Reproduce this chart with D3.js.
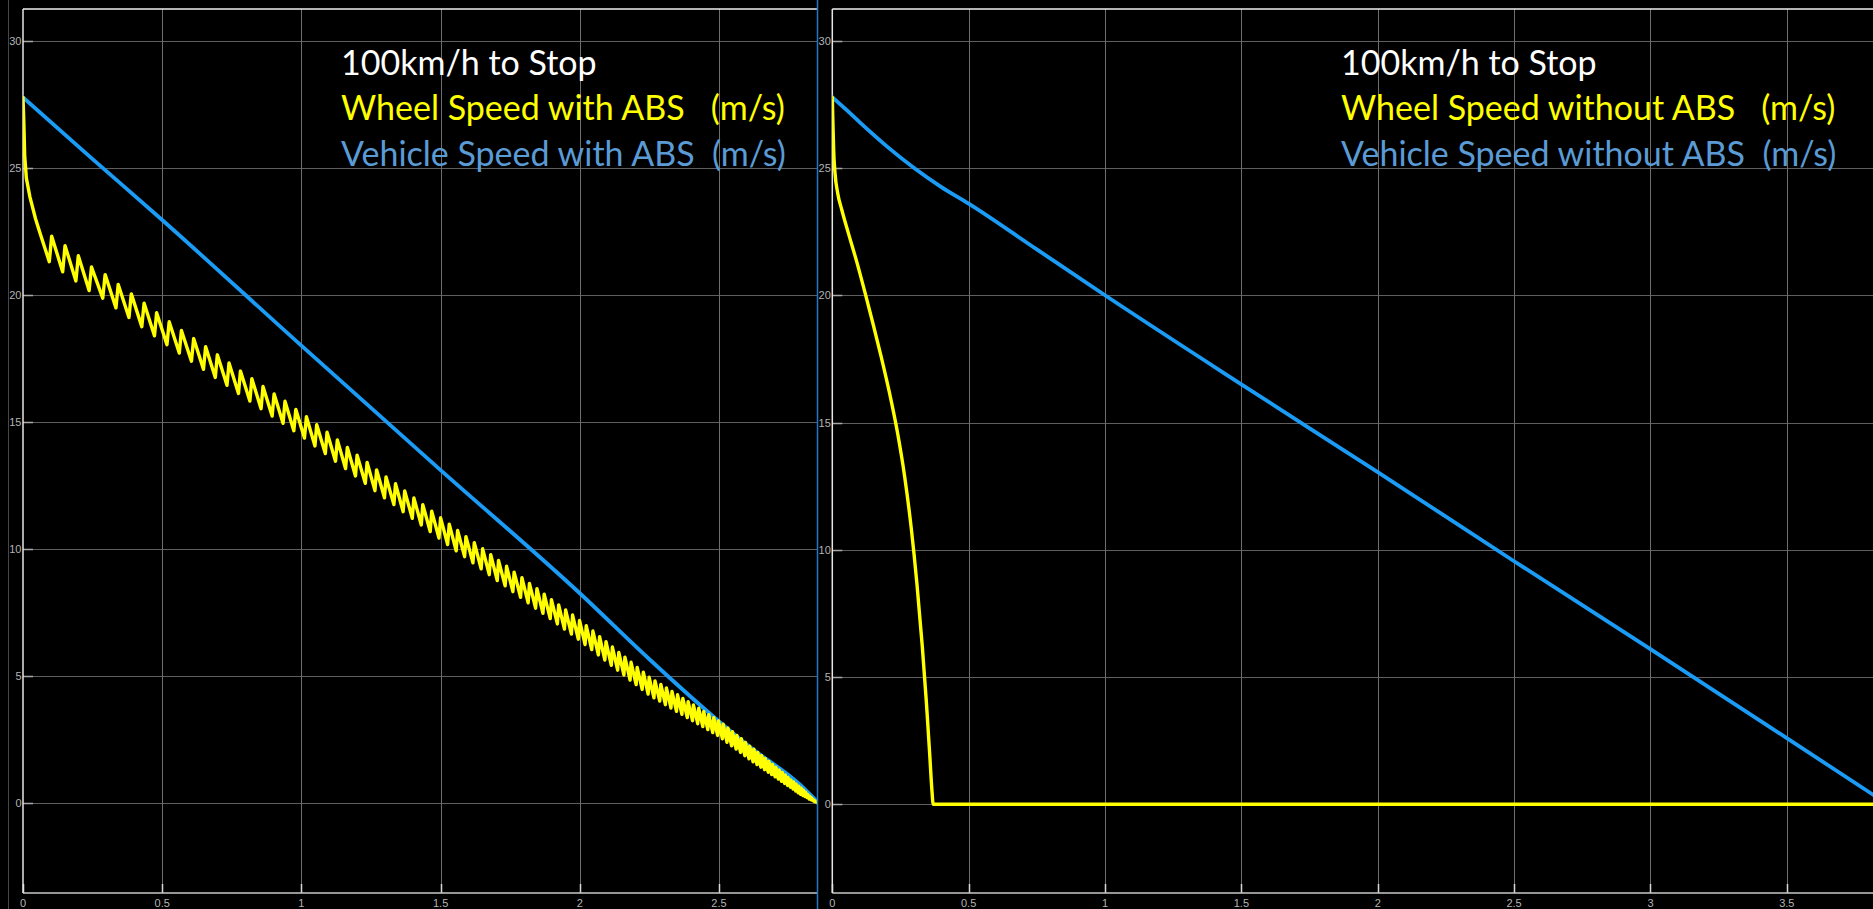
<!DOCTYPE html>
<html>
<head>
<meta charset="utf-8">
<script src="https://cdn.jsdelivr.net/npm/d3@7"></script>
<style>
  html, body { margin: 0; padding: 0; background: #000; overflow: hidden; }
  svg { display: block; }
  .legend { font-family: Lato, "Open Sans", sans-serif; white-space: pre; }
  .tick-label { font-family: "Liberation Sans", Arial, sans-serif; font-size: 11px; fill: #b4b4b4; }
</style>
</head>
<body>
<svg id="chart" width="1873" height="909"></svg>
<script>
// ---- Shared axis ticks ----
const yTicks = [0, 5, 10, 15, 20, 25, 30];
const xTicksAbs = [0, 0.5, 1, 1.5, 2, 2.5];
const xTicksNoAbs = [0, 0.5, 1, 1.5, 2, 2.5, 3, 3.5];

// ---- With ABS: vehicle speed (m/s) ----
const absVehicleT = [0, 0.25, 0.5, 1.0, 1.5, 2.0, 2.25, 2.5, 2.61, 2.79, 2.852];
const absVehicleV = [27.78, 25.35, 22.95, 18.0, 13.1, 8.25, 5.65, 3.2, 2.2, 0.72, 0.05];

// ---- With ABS: wheel speed (m/s), trough/peak pairs of the ABS cycling ----
const absWheelT = [
  0, 0.003, 0.006, 0.012, 0.025, 0.045, 0.061, 0.08,
  0.0945, 0.103, 0.1425, 0.151, 0.190, 0.1986, 0.2375, 0.246, 0.2865, 0.295,
  0.3339, 0.342, 0.3806, 0.389, 0.4267, 0.435, 0.4722, 0.480, 0.5171, 0.525,
  0.5614, 0.569, 0.6051, 0.613, 0.6482, 0.656, 0.6907, 0.698, 0.7327, 0.740,
  0.7741, 0.781, 0.8149, 0.822, 0.8552, 0.862, 0.8949, 0.902, 0.9341, 0.941,
  0.9728, 0.980, 1.0110, 1.018, 1.0487, 1.055, 1.0859, 1.092, 1.1225, 1.129,
  1.1586, 1.165, 1.1943, 1.200, 1.2295, 1.236, 1.2642, 1.270, 1.2984, 1.304,
  1.3322, 1.338, 1.3655, 1.371, 1.3983, 1.404, 1.4307, 1.436, 1.4627, 1.468,
  1.4942, 1.500, 1.5253, 1.531, 1.5560, 1.561, 1.5863, 1.591, 1.6162, 1.621,
  1.6457, 1.651, 1.6748, 1.680, 1.7035, 1.708, 1.7318, 1.737, 1.7597, 1.764,
  1.7873, 1.792, 1.8145, 1.819, 1.8413, 1.846, 1.8677, 1.872, 1.8938, 1.898,
  1.9195, 1.924, 1.9449, 1.949, 1.9699, 1.974, 1.9946, 1.999, 2.0190, 2.023,
  2.0430, 2.047, 2.0667, 2.071, 2.0901, 2.094, 2.1132, 2.117, 2.1360, 2.140,
  2.1584, 2.162, 2.1806, 2.184, 2.2025, 2.206, 2.2241, 2.228, 2.2454, 2.249,
  2.2664, 2.270, 2.2871, 2.291, 2.3075, 2.311, 2.3276, 2.331, 2.3474, 2.351,
  2.3669, 2.370, 2.3861, 2.389, 2.4050, 2.408, 2.4236, 2.427, 2.4419, 2.445,
  2.4599, 2.463, 2.4776, 2.481, 2.4950, 2.498, 2.5121, 2.515, 2.5289, 2.532,
  2.5454, 2.548, 2.5616, 2.564, 2.5774, 2.580, 2.5928, 2.595, 2.6078, 2.610,
  2.6224, 2.625, 2.6366, 2.639, 2.6504, 2.653, 2.6638, 2.666, 2.6768, 2.679,
  2.6894, 2.692, 2.7016, 2.704, 2.7134, 2.716, 2.7248, 2.727, 2.7358, 2.738,
  2.7464, 2.748, 2.7566, 2.758, 2.7664, 2.768, 2.7758, 2.777, 2.7848, 2.786,
  2.7934, 2.795, 2.8016, 2.803, 2.8094, 2.811, 2.8168, 2.818, 2.8238, 2.825,
  2.8304, 2.831, 2.8366, 2.837, 2.8424, 2.843, 2.852
];
const absWheelV = [
  27.78, 26.8, 25.5, 24.6, 23.85, 23.0, 22.44, 21.8,
  21.31, 22.31, 20.91, 21.94, 20.55, 21.54, 20.17, 21.10, 19.87, 20.80,
  19.49, 20.41, 19.11, 20.04, 18.75, 19.67, 18.39, 19.30, 18.04, 18.94,
  17.71, 18.60, 17.39, 18.28, 17.07, 17.96, 16.75, 17.64, 16.44, 17.32,
  16.12, 17.00, 15.82, 16.70, 15.52, 16.39, 15.23, 16.10, 14.94, 15.81,
  14.65, 15.49, 14.36, 15.20, 14.05, 14.89, 13.75, 14.59, 13.45, 14.29,
  13.16, 13.99, 12.87, 13.69, 12.58, 13.40, 12.29, 13.11, 12.01, 12.83,
  11.74, 12.56, 11.46, 12.28, 11.20, 12.00, 10.94, 11.74, 10.68, 11.48,
  10.42, 11.22, 10.17, 10.97, 9.92, 10.72, 9.69, 10.48, 9.45, 10.24,
  9.21, 10.00, 8.98, 9.77, 8.75, 9.54, 8.54, 9.31, 8.31, 9.08,
  8.09, 8.86, 7.87, 8.64, 7.66, 8.43, 7.46, 8.21, 7.25, 8.00,
  7.04, 7.79, 6.84, 7.59, 6.64, 7.39, 6.44, 7.18, 6.23, 6.97,
  6.03, 6.76, 5.82, 6.54, 5.62, 6.34, 5.41, 6.13, 5.22, 5.92,
  5.03, 5.73, 4.83, 5.53, 4.65, 5.33, 4.46, 5.14, 4.28, 4.94,
  4.13, 4.80, 4.00, 4.66, 3.86, 4.52, 3.73, 4.38, 3.60, 4.25,
  3.48, 4.11, 3.35, 3.98, 3.23, 3.85, 3.11, 3.72, 3.00, 3.59,
  2.88, 3.47, 2.76, 3.35, 2.65, 3.22, 2.52, 3.09, 2.38, 2.94,
  2.24, 2.80, 2.11, 2.65, 1.98, 2.52, 1.85, 2.37, 1.73, 2.23,
  1.61, 2.11, 1.50, 1.98, 1.40, 1.86, 1.30, 1.74, 1.20, 1.62,
  1.11, 1.51, 1.02, 1.40, 0.93, 1.29, 0.84, 1.19, 0.76, 1.09,
  0.68, 0.99, 0.61, 0.90, 0.54, 0.82, 0.46, 0.73, 0.39, 0.65,
  0.33, 0.57, 0.28, 0.49, 0.24, 0.41, 0.20, 0.33, 0.15, 0.26,
  0.12, 0.20, 0.09, 0.14, 0.05, 0.08, 0.00
];

// ---- Without ABS: vehicle speed (m/s) ----
const noAbsVehicleT = [0, 0.05, 0.1, 0.2, 0.3, 0.4, 0.5, 0.75, 1.0, 1.5, 2.0, 2.5, 3.0, 3.5, 3.82];
const noAbsVehicleV = [27.78, 27.3, 26.8, 25.85, 25.0, 24.25, 23.6, 21.8, 20.0, 16.5, 13.05, 9.55, 6.1, 2.6, 0.35];

// ---- Without ABS: wheel speed (m/s), wheel locks near 0.37 s ----
const noAbsWheelT = [0, 0.002, 0.005, 0.01, 0.02, 0.035, 0.06, 0.09, 0.12, 0.15, 0.18, 0.21, 0.24, 0.265, 0.29, 0.31, 0.33, 0.345, 0.357, 0.365, 0.37, 3.82];
const noAbsWheelV = [27.78, 26.9, 25.7, 24.8, 24.0, 23.35, 22.4, 21.3, 20.1, 18.85, 17.55, 16.15, 14.55, 12.9, 10.8, 8.7, 6.2, 4.0, 2.0, 0.6, 0.0, 0.0];

// ---- Legend text ----
const legendAbs = [
  { text: "100km/h to Stop", color: "#ffffff" },
  { text: "Wheel Speed with ABS   (m/s)", color: "#ffff00" },
  { text: "Vehicle Speed with ABS  (m/s)", color: "#5b9bd5" }
];
const legendNoAbs = [
  { text: "100km/h to Stop", color: "#ffffff" },
  { text: "Wheel Speed without ABS   (m/s)", color: "#ffff00" },
  { text: "Vehicle Speed without ABS  (m/s)", color: "#5b9bd5" }
];

const zip = (ts, vs) => ts.map((t, i) => [t, vs[i]]);

const svg = d3.select("#chart");
svg.append("rect").attr("width", 1873).attr("height", 909).attr("fill", "#000");

const frameTop = 9, frameBottom = 893;

const panels = [
  {
    id: "abs", left: 23, right: 817, tMax: 2.852, zeroY: 802.7, topY: 41,
    xTicks: xTicksAbs, vehicle: zip(absVehicleT, absVehicleV), wheel: zip(absWheelT, absWheelV),
    wheelCurve: d3.curveLinear, legend: legendAbs, legendX: 341
  },
  {
    id: "noabs", left: 832.3, right: 1873, tMax: 3.816, zeroY: 804.3, topY: 40.7,
    xTicks: xTicksNoAbs, vehicle: zip(noAbsVehicleT, noAbsVehicleV), wheel: zip(noAbsWheelT, noAbsWheelV),
    wheelCurve: d3.curveMonotoneX, legend: legendNoAbs, legendX: 1341
  }
];

// Outer window edge to the left of the first scope
svg.append("line").attr("x1", 8.5).attr("x2", 8.5).attr("y1", 0).attr("y2", 909)
  .attr("stroke", "#474747").attr("stroke-width", 1);

panels.forEach(p => {
  const x = d3.scaleLinear().domain([0, p.tMax]).range([p.left, p.right]);
  const y = d3.scaleLinear().domain([0, 30]).range([p.zeroY, p.topY]);
  const g = svg.append("g");

  g.append("clipPath").attr("id", "clip-" + p.id)
    .append("rect").attr("x", p.left).attr("y", frameTop)
    .attr("width", p.right - p.left).attr("height", frameBottom - frameTop);

  // Grid
  g.append("g").selectAll("line").data(yTicks).join("line")
    .attr("x1", p.left).attr("x2", p.right)
    .attr("y1", d => Math.round(y(d)) + 0.5).attr("y2", d => Math.round(y(d)) + 0.5)
    .attr("stroke", "#5e5e5e").attr("stroke-width", 1);
  g.append("g").selectAll("line").data(p.xTicks.filter(d => d > 0)).join("line")
    .attr("x1", d => Math.round(x(d)) + 0.5).attr("x2", d => Math.round(x(d)) + 0.5)
    .attr("y1", frameTop).attr("y2", frameBottom)
    .attr("stroke", "#6e6e6e").attr("stroke-width", 1);

  // Tick marks
  g.append("g").selectAll("line").data(yTicks).join("line")
    .attr("x1", p.left).attr("x2", p.left + 10)
    .attr("y1", d => Math.round(y(d)) + 0.5).attr("y2", d => Math.round(y(d)) + 0.5)
    .attr("stroke", "#a8a8a8").attr("stroke-width", 1.5);
  g.append("g").selectAll("line").data(p.xTicks).join("line")
    .attr("x1", d => Math.round(x(d)) + 0.5).attr("x2", d => Math.round(x(d)) + 0.5)
    .attr("y1", frameBottom).attr("y2", frameBottom - 9)
    .attr("stroke", "#d8d8d8").attr("stroke-width", 1.5);

  // Frame
  g.append("line").attr("x1", p.left).attr("x2", p.right).attr("y1", frameTop).attr("y2", frameTop)
    .attr("stroke", "#f0f0f0").attr("stroke-width", 1.5);
  g.append("line").attr("x1", p.left).attr("x2", p.right).attr("y1", frameBottom).attr("y2", frameBottom)
    .attr("stroke", "#c8c8c8").attr("stroke-width", 1.5);
  g.append("line").attr("x1", p.left).attr("x2", p.left).attr("y1", frameTop).attr("y2", frameBottom)
    .attr("stroke", "#e6e6e6").attr("stroke-width", 1.5);

  // Tick labels
  g.append("g").selectAll("text").data(yTicks).join("text")
    .attr("class", "tick-label")
    .attr("x", p.left - 1.5).attr("y", d => y(d) + 4)
    .attr("text-anchor", "end")
    .text(d => d);
  g.append("g").selectAll("text").data(p.xTicks).join("text")
    .attr("class", "tick-label")
    .attr("x", d => x(d)).attr("y", 907)
    .attr("text-anchor", "middle")
    .text(d => d);

  // Series
  const series = g.append("g").attr("clip-path", `url(#clip-${p.id})`);
  const vehicleLine = d3.line().curve(d3.curveMonotoneX).x(d => x(d[0])).y(d => y(d[1]));
  const wheelLine = d3.line().curve(p.wheelCurve).x(d => x(d[0])).y(d => y(d[1]));
  series.append("path").datum(p.vehicle).attr("d", vehicleLine)
    .attr("fill", "none").attr("stroke", "#1a9bf5").attr("stroke-width", 3.8)
    .attr("stroke-linejoin", "round").attr("stroke-linecap", "round");
  series.append("path").datum(p.wheel).attr("d", wheelLine)
    .attr("fill", "none").attr("stroke", "#ffff00").attr("stroke-width", 3.4)
    .attr("stroke-linejoin", "round").attr("stroke-linecap", "round");

  // Legend
  g.append("g").selectAll("text").data(p.legend).join("text")
    .attr("class", "legend")
    .attr("x", p.legendX).attr("y", (d, i) => 74.5 + i * 45.5)
    .attr("font-size", 34)
    .attr("fill", d => d.color)
    .text(d => d.text);
});

// Blue divider between the two scopes
svg.append("line").attr("x1", 817.5).attr("x2", 817.5).attr("y1", 0).attr("y2", 909)
  .attr("stroke", "#2276c8").attr("stroke-width", 1.5);
</script>
</body>
</html>
